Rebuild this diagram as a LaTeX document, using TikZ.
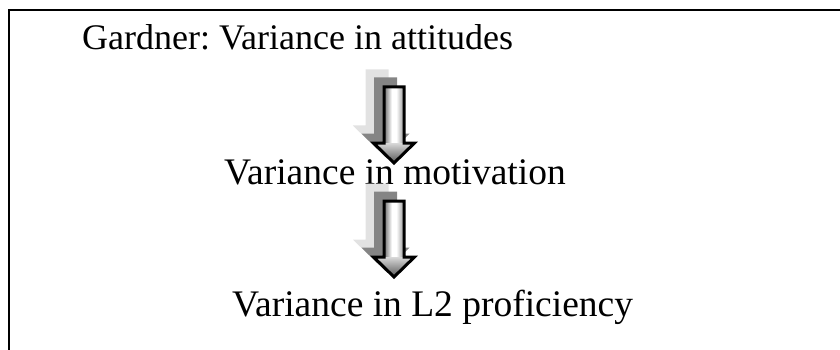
\documentclass[tikz,border=0pt]{standalone}
\usepackage{fontspec}
\setmainfont{Liberation Serif}
\frenchspacing
\definecolor{ghostlight}{HTML}{E2E2E2}
\definecolor{ghostmid}{HTML}{858585}
\definecolor{rimdark}{HTML}{5A5A5A}
\definecolor{rimmid}{HTML}{8C8C8C}
\definecolor{headlight}{HTML}{D8D8D8}
\definecolor{headdark}{HTML}{4A4A4A}
% metallic fills: the shaft is lit from the middle, the head darkens towards the tip
\pgfdeclarehorizontalshading{metalshaft}{100bp}{color(0bp)=(rimdark); color(25bp)=(rimdark); color(45bp)=(white); color(55bp)=(white); color(75bp)=(rimmid); color(100bp)=(rimmid)}
\pgfdeclareverticalshading{metalhead}{100bp}{color(0bp)=(headdark); color(25bp)=(headdark); color(75bp)=(headlight); color(100bp)=(headlight)}
% outline of one block arrow, origin at the top centre of the shaft
\def\arrowpath{(-10,0) -- (10,0) -- (10,56) -- (20.5,56) -- (0,76) -- (-20.5,56) -- (-10,56) -- cycle}
\begin{document}
\begin{tikzpicture}[x=1pt,y=-1pt,
  caption/.style={anchor=base west, inner sep=0pt, font=\fontsize{37.5}{44}\selectfont},
  frameline/.style={line width=1.8pt, black},
  arrowrim/.style={draw=black, line width=3pt, miter limit=10},
  pics/blockarrow/.style={code={
    % two flat shadow copies behind the arrow
    \begin{scope}[shift={(-17,-16)}]
      \filldraw[fill=ghostlight, draw=ghostlight, line width=3pt] \arrowpath;
    \end{scope}
    \begin{scope}[shift={(-8.5,-8)}]
      \filldraw[fill=ghostmid, draw=ghostmid, line width=3pt] \arrowpath;
    \end{scope}
    % metallic body
    \begin{scope}
      \clip \arrowpath;
      \shade[shading=metalshaft] (-11,-1) rectangle (11,56.5);
      \shade[shading=metalhead] (-22,56) rectangle (22,78);
    \end{scope}
    \draw[arrowrim] \arrowpath;
  }}
]
\useasboundingbox (0,0) rectangle (840,350);
\draw[frameline] (9,350) -- (9,10) -- (840,10);

\node[caption, font=\fontsize{36}{42}\selectfont] (attitudes) at (82,50) {Gardner: Variance in attitudes};
\node[caption] (motivation) at (224,184) {Variance in motivation};
\node[caption] (proficiency) at (232,316) {Variance in L2 proficiency};

\pic at (394,87) {blockarrow};
\pic at (394,201) {blockarrow};
\end{tikzpicture}
\end{document}
